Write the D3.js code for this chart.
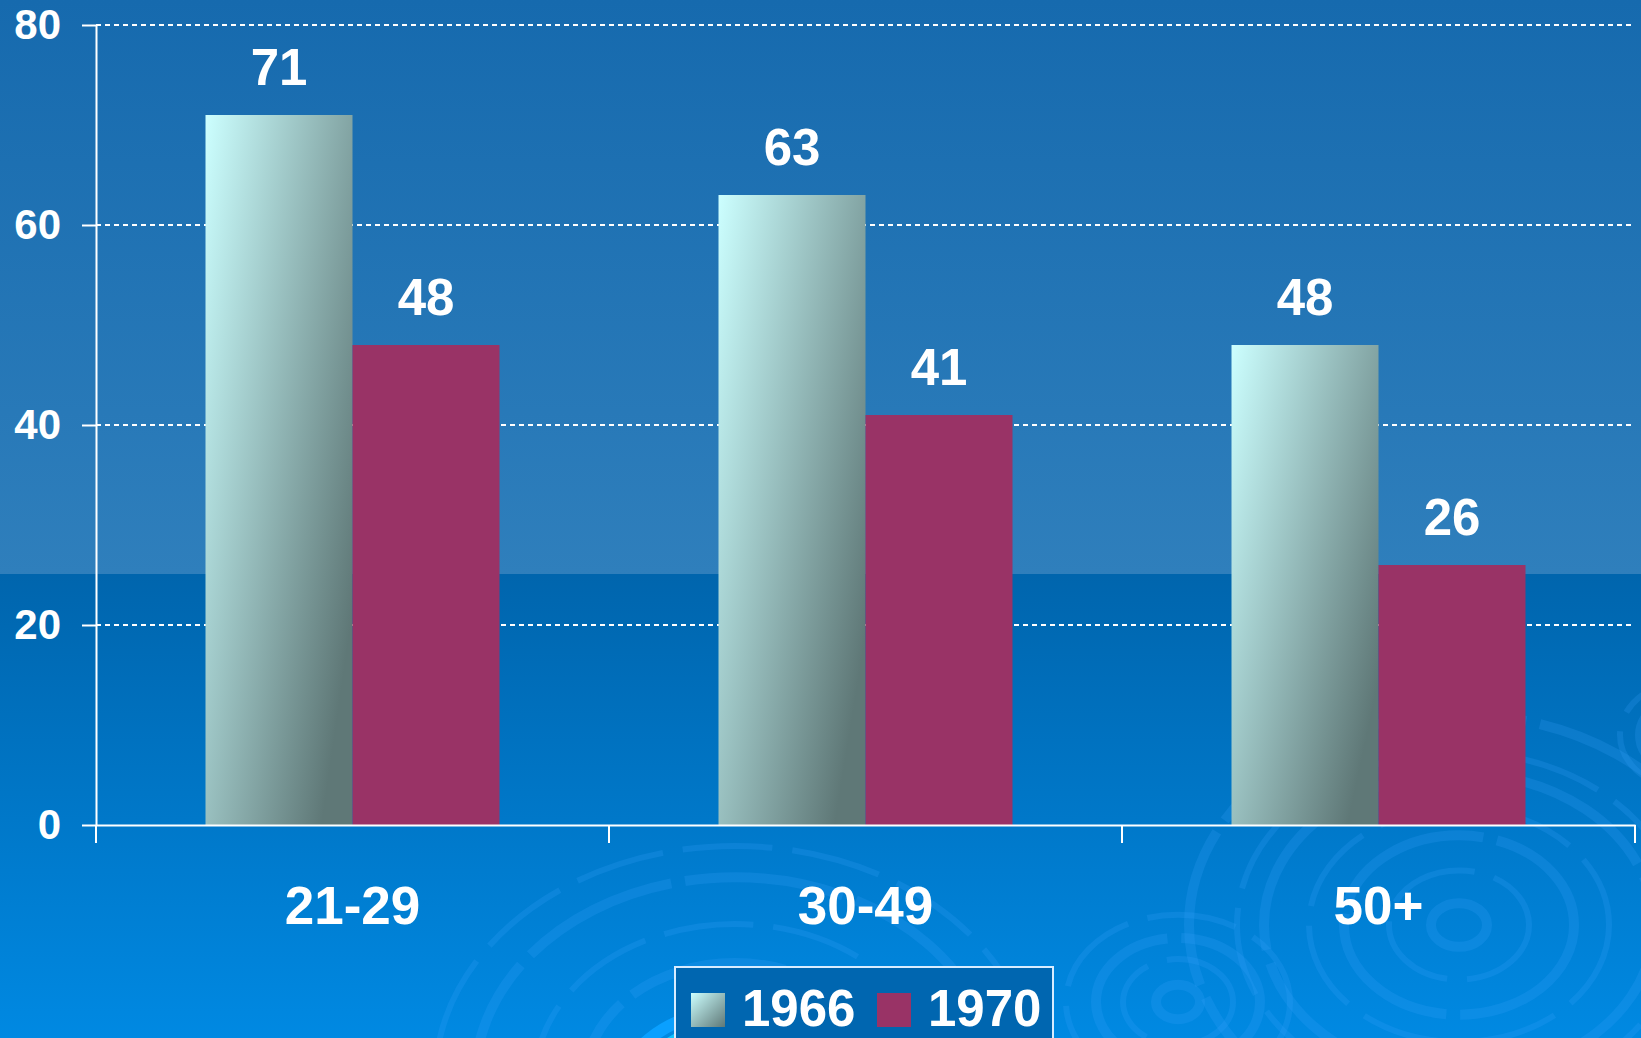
<!DOCTYPE html>
<html>
<head>
<meta charset="utf-8">
<script src="https://cdn.jsdelivr.net/npm/d3@7"></script>
<style>
    body { margin: 0; overflow: hidden; }
    text { font-family: "Liberation Sans", Arial, sans-serif; font-weight: bold; fill: #fff; }
</style>
</head>
<body>
<div id="chart"></div>
<script>
// data
let categories = ["21-29", "30-49", "50+"];
let series = ["1966", "1970"];
let values1966 = [71, 63, 48];
let values1970 = [48, 41, 26];
let yTicks = [0, 20, 40, 60, 80];

let w = 1641;
let h = 1038;
let plotLeft = 96, plotRight = 1635, plotTop = 25, plotBottom = 825;

let svg = d3.select("#chart")
    .append("svg")
    .attr("width", w)
    .attr("height", h);

let defs = svg.append("defs");

let bgTop = defs.append("linearGradient")
    .attr("id", "bgTop").attr("x1", 0).attr("y1", 0).attr("x2", 0).attr("y2", 1);
bgTop.append("stop").attr("offset", 0).attr("stop-color", "#166aae");
bgTop.append("stop").attr("offset", 1).attr("stop-color", "#2f7fbc");

let bgBottom = defs.append("linearGradient")
    .attr("id", "bgBottom").attr("x1", 0).attr("y1", 0).attr("x2", 0).attr("y2", 1);
bgBottom.append("stop").attr("offset", 0).attr("stop-color", "#0065ad");
bgBottom.append("stop").attr("offset", 1).attr("stop-color", "#0089e2");

let barGrad = defs.append("linearGradient")
    .attr("id", "barGrad").attr("x1", 0).attr("y1", 0).attr("x2", 1).attr("y2", 0.7);
barGrad.append("stop").attr("offset", 0).attr("stop-color", "#ccffff");
barGrad.append("stop").attr("offset", 1).attr("stop-color", "#5f7877");

let swatchGrad = defs.append("linearGradient")
    .attr("id", "swatchGrad").attr("x1", 0).attr("y1", 0).attr("x2", 1).attr("y2", 1);
swatchGrad.append("stop").attr("offset", 0).attr("stop-color", "#ccffff");
swatchGrad.append("stop").attr("offset", 1).attr("stop-color", "#5f7877");

// background
svg.append("rect").attr("width", w).attr("height", 574).attr("fill", "url(#bgTop)");
svg.append("rect").attr("y", 574).attr("width", w).attr("height", h - 574).attr("fill", "url(#bgBottom)");

// ripples (decoration)
let ripples = [
    {cx: 1459, cy: 925, r: [28, 70, 115, 150, 195, 222, 270]},
    {cx: 1178, cy: 1002, r: [22, 55, 82, 112]},
    {cx: 735, cy: 1080, r: [150, 200, 260, 300]},
    {cx: 1690, cy: 735, r: [50, 70]}
];
ripples.forEach(function (rp) {
    svg.append("g").selectAll("ellipse")
        .data(rp.r)
        .enter()
        .append("ellipse")
        .attr("cx", rp.cx)
        .attr("cy", rp.cy)
        .attr("rx", function (d) { return d; })
        .attr("ry", function (d) { return d * 0.78; })
        .attr("fill", "none")
        .attr("stroke", "#3aa6ff")
        .attr("stroke-opacity", 0.2)
        .attr("stroke-width", function (d, i) { return i % 2 === 0 ? 10 : 6; })
        .attr("stroke-dasharray", function (d, i) { return i % 2 === 0 ? "160,14" : "90,20"; });
});
svg.append("ellipse")
    .attr("cx", 735).attr("cy", 1110).attr("rx", 122).attr("ry", 100)
    .attr("fill", "none").attr("stroke", "#0aa0ff").attr("stroke-width", 12);
svg.append("ellipse")
    .attr("cx", 735).attr("cy", 1110).attr("rx", 106).attr("ry", 86)
    .attr("fill", "none").attr("stroke", "#10c4ff").attr("stroke-width", 10);

// scales
let x0 = d3.scaleBand()
    .domain(categories)
    .range([plotLeft, plotRight])
    .padding(0);

let x1 = d3.scaleBand()
    .domain(series)
    .range([0, x0.bandwidth()])
    .paddingInner(0)
    .paddingOuter(0.745);

let y = d3.scaleLinear()
    .domain([0, 80])
    .range([plotBottom, plotTop]);

// gridlines
svg.append("g").selectAll("line")
    .data(yTicks.slice(1))
    .enter()
    .append("line")
    .attr("x1", plotLeft)
    .attr("x2", plotRight)
    .attr("y1", function (d) { return y(d); })
    .attr("y2", function (d) { return y(d); })
    .attr("stroke", "#fff")
    .attr("stroke-width", 2)
    .attr("stroke-dasharray", "5,4");

// bars
let rows = categories.map(function (c, i) {
    return [
        {cat: c, s: series[0], v: values1966[i]},
        {cat: c, s: series[1], v: values1970[i]}
    ];
});

let groups = svg.append("g").selectAll("g")
    .data(rows)
    .enter()
    .append("g")
    .attr("transform", function (d) { return "translate(" + x0(d[0].cat) + ",0)"; });

groups.selectAll("rect")
    .data(function (d) { return d; })
    .enter()
    .append("rect")
    .attr("x", function (d) { return x1(d.s); })
    .attr("y", function (d) { return y(d.v); })
    .attr("width", x1.bandwidth())
    .attr("height", function (d) { return y(0) - y(d.v); })
    .attr("fill", function (d) {
        if (d.s === "1966") {
            return "url(#barGrad)";
        } else {
            return "#993366";
        }
    });

groups.selectAll("text")
    .data(function (d) { return d; })
    .enter()
    .append("text")
    .text(function (d) { return d.v; })
    .attr("text-anchor", "middle")
    .attr("x", function (d) { return x1(d.s) + x1.bandwidth() / 2; })
    .attr("y", function (d) { return y(d.v) - 30; })
    .attr("font-size", "51px");

// y axis
let yAxis = svg.append("g")
    .attr("transform", "translate(" + plotLeft + ",0)")
    .call(d3.axisLeft(y).tickValues(yTicks).tickSize(14).tickSizeOuter(0).tickPadding(21));
yAxis.select(".domain").attr("stroke", "#fff").attr("stroke-width", 2);
yAxis.selectAll(".tick line").attr("stroke", "#fff").attr("stroke-width", 2);
yAxis.selectAll(".tick text")
    .attr("font-size", "42px")
    .attr("font-family", "Liberation Sans, Arial, sans-serif")
    .attr("fill", "#fff");

// x axis
let xAxis = svg.append("g")
    .attr("transform", "translate(0," + plotBottom + ")")
    .call(d3.axisBottom(x0).tickSize(0).tickSizeOuter(0).tickPadding(61));
xAxis.select(".domain").attr("stroke", "#fff").attr("stroke-width", 2);
xAxis.selectAll(".tick text")
    .attr("font-size", "53px")
    .attr("font-family", "Liberation Sans, Arial, sans-serif")
    .attr("fill", "#fff");

let boundaries = categories.map(function (c) { return x0(c); });
boundaries.push(x0(categories[categories.length - 1]) + x0.bandwidth());
xAxis.selectAll(".bound")
    .data(boundaries)
    .enter()
    .append("line")
    .attr("class", "bound")
    .attr("x1", function (d) { return d; })
    .attr("x2", function (d) { return d; })
    .attr("y1", 0)
    .attr("y2", 18)
    .attr("stroke", "#fff")
    .attr("stroke-width", 2);

// legend
let legend = svg.append("g").attr("transform", "translate(675,967)");
legend.append("rect")
    .attr("width", 378)
    .attr("height", 120)
    .attr("fill", "#0066b0")
    .attr("stroke", "#d8ecff")
    .attr("stroke-width", 2);

let legendItems = legend.selectAll("g")
    .data(series)
    .enter()
    .append("g")
    .attr("transform", function (d, i) { return "translate(" + (16 + i * 186) + ",26)"; });

legendItems.append("rect")
    .attr("width", 34)
    .attr("height", 34)
    .attr("fill", function (d, i) { return i === 0 ? "url(#swatchGrad)" : "#993366"; });

legendItems.append("text")
    .text(function (d) { return d; })
    .attr("x", 51)
    .attr("y", 33)
    .attr("font-size", "51px");
</script>
</body>
</html>
